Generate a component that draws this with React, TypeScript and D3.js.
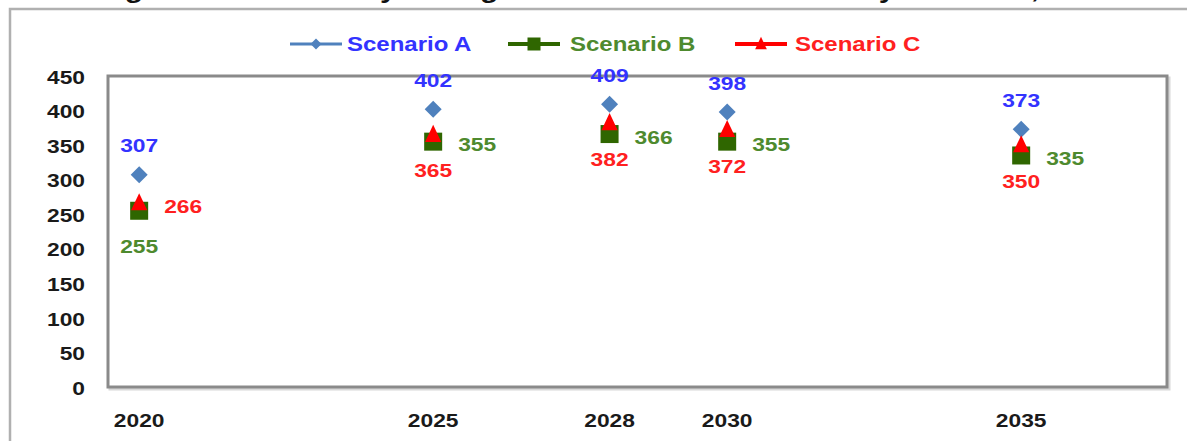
import React from "react";
import * as d3 from "d3";

const YEARS = [2020, 2025, 2028, 2030, 2035];
const SCENARIO_A = [307, 402, 409, 398, 373];
const SCENARIO_B = [255, 355, 366, 355, 335];
const SCENARIO_C = [266, 365, 382, 372, 350];
const SERIES_NAMES = ["Scenario A", "Scenario B", "Scenario C"];
const Y_TICKS = [0, 50, 100, 150, 200, 250, 300, 350, 400, 450];

// label placement per point (style, not data)
const LABEL_POS_A = ["top", "top", "top", "top", "top"];
const LABEL_POS_B = ["bottom", "right", "right", "right", "right"];
const LABEL_POS_C = ["right", "bottom", "bottom", "bottom", "bottom"];

const W = 1187;
const H = 441;
const PLOT = { left: 108, right: 1167, top: 76, bottom: 387 };
const FONT = "'Liberation Sans', Arial, sans-serif";
const SX = 1.2;

const COLORS = {
  A: { marker: "#4F81BD", label: "#3333FF" },
  B: { marker: "#2F6600", label: "#4E8A2E" },
  C: { marker: "#FF0000", label: "#FF2020" },
};

function T({ x, y, size, color, anchor = "middle", children, weight = "bold" }: any) {
  return (
    <text
      transform={`translate(${x},${y}) scale(${SX},1)`}
      fontFamily={FONT}
      fontWeight={weight}
      fontSize={size}
      fill={color}
      textAnchor={anchor}
      dy="0.35em"
    >
      {children}
    </text>
  );
}

function Marker({ kind, x, y, color, s }: any) {
  if (kind === "diamond") {
    const r = s / 2;
    return <path d={`M${x},${y - r}L${x + r},${y}L${x},${y + r}L${x - r},${y}Z`} fill={color} />;
  }
  if (kind === "square") {
    return <rect x={x - s / 2} y={y - s / 2} width={s} height={s} fill={color} />;
  }
  const r = s / 2;
  return <path d={`M${x},${y - r * 1.1}L${x + r * 0.9},${y + r * 0.8}L${x - r * 0.9},${y + r * 0.8}Z`} fill={color} />;
}

export default function App() {
  const x = d3.scaleLinear().domain([2019.47, 2037.48]).range([PLOT.left, PLOT.right]);
  const y = d3.scaleLinear().domain([0, 450]).range([PLOT.bottom, PLOT.top]);

  const series = [
    { name: SERIES_NAMES[0], values: SCENARIO_A, kind: "diamond", c: COLORS.A, size: 17, pos: LABEL_POS_A },
    { name: SERIES_NAMES[1], values: SCENARIO_B, kind: "square", c: COLORS.B, size: 18, pos: LABEL_POS_B },
    { name: SERIES_NAMES[2], values: SCENARIO_C, kind: "triangle", c: COLORS.C, size: 18, pos: LABEL_POS_C },
  ];

  const legendItems = [
    { lx: 290, tx: 347 },
    { lx: 508, tx: 570 },
    { lx: 735, tx: 795 },
  ];

  return (
    <svg width={W} height={H} style={{ position: "absolute", left: 0, top: 0, background: "#fff" }}>
      {/* title, mostly cropped as in the reference */}
      <text
        x={98}
        y={-2}
        fontFamily={FONT}
        fontWeight="bold"
        fontSize={24}
        fill="#111"
        textLength={1050}
        lengthAdjust="spacingAndGlyphs"
      >
        Figure 4-1: Summary of Engine Mass Flow Estimates by Scenario, Annual
      </text>
      {/* outer chart frame */}
      <path d={`M10,${H}V9H${W}`} fill="none" stroke="#b0b0b0" strokeWidth={2.5} />

      {/* legend */}
      {series.map((s, i) => {
        const it = legendItems[i];
        const cy = 44;
        return (
          <g key={s.name}>
            <line x1={it.lx} x2={it.lx + 52} y1={cy} y2={cy} stroke={s.c.marker} strokeWidth={i === 0 ? 3 : 4} />
            <Marker kind={s.kind} x={it.lx + 26} y={cy} color={s.c.marker} s={i === 0 ? 11 : 13} />
            <T x={it.tx} y={cy} size={20} color={s.c.label} anchor="start">
              {s.name}
            </T>
          </g>
        );
      })}

      {/* plot frame */}
      <rect
        x={PLOT.left + 2}
        y={PLOT.top + 2}
        width={PLOT.right - PLOT.left}
        height={PLOT.bottom - PLOT.top}
        fill="none"
        stroke="#d8d8d8"
        strokeWidth={3}
      />
      <rect
        x={PLOT.left}
        y={PLOT.top}
        width={PLOT.right - PLOT.left}
        height={PLOT.bottom - PLOT.top}
        fill="#fff"
        stroke="#8a8a8a"
        strokeWidth={3}
      />

      {/* y axis labels */}
      {Y_TICKS.map((t) => (
        <T key={t} x={85} y={y(t) + 1} size={19} color="#1a1a1a" anchor="end">
          {t}
        </T>
      ))}
      {/* x axis labels */}
      {YEARS.map((yr) => (
        <T key={yr} x={x(yr)} y={420} size={19} color="#1a1a1a">
          {yr}
        </T>
      ))}

      {/* markers */}
      {series.map((s) => (
        <g key={s.name}>
          {s.values.map((v, i) => (
            <Marker key={i} kind={s.kind} x={x(YEARS[i])} y={y(v)} color={s.c.marker} s={s.size} />
          ))}
        </g>
      ))}

      {/* data labels */}
      {series.map((s) => (
        <g key={s.name + "-lbl"}>
          {s.values.map((v, i) => {
            const px = x(YEARS[i]);
            const py = y(v);
            const p = s.pos[i];
            if (p === "top") return <T key={i} x={px} y={py - 29} size={19} color={s.c.label}>{v}</T>;
            if (p === "bottom") return <T key={i} x={px} y={py + 36} size={19} color={s.c.label}>{v}</T>;
            return <T key={i} x={px + 25} y={py + 3} size={19} color={s.c.label} anchor="start">{v}</T>;
          })}
        </g>
      ))}
    </svg>
  );
}
